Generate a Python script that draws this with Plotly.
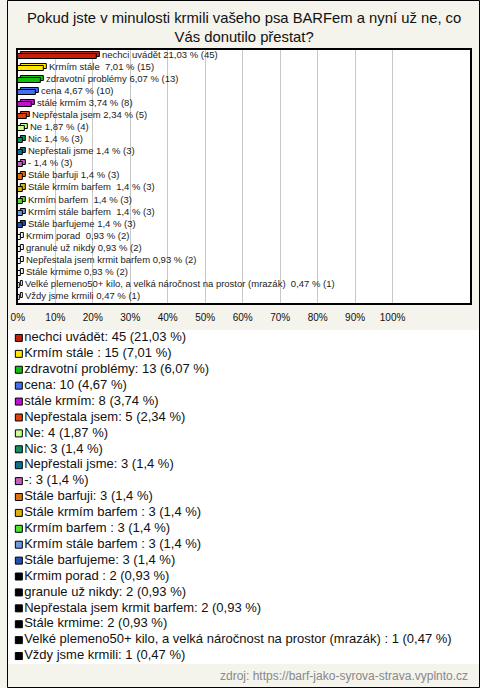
import plotly.graph_objects as go

W, H = 480, 688

categories = [
    "nechci uvádět", "Krmím stále ", "zdravotní problémy", "cena", "stále krmím",
    "Nepřestala jsem", "Ne", "Nic", "Nepřestali jsme", "-",
    "Stále barfuji", "Stále krmím barfem ", "Krmím barfem ", "Krmím stále barfem ",
    "Stále barfujeme", "Krmim porad ", "granule už nikdy", "Nepřestala jsem krmit barfem",
    "Stále krmime", "Velké plemeno50+ kilo, a velká náročnost na prostor (mrazák) ",
    "Vždy jsme krmili",
]
counts = [45, 15, 13, 10, 8, 5, 4, 3, 3, 3, 3, 3, 3, 3, 3, 2, 2, 2, 2, 1, 1]
percents = [21.03, 7.01, 6.07, 4.67, 3.74, 2.34, 1.87, 1.4, 1.4, 1.4, 1.4, 1.4, 1.4, 1.4,
            1.4, 0.93, 0.93, 0.93, 0.93, 0.47, 0.47]
legend_colors = [
    "#c4200c", "#ffe800", "#10c010", "#4070f0", "#c010d0", "#e04010", "#c8ff90",
    "#109060", "#107090", "#c060c0", "#e07010", "#e0b010", "#50e030", "#7098e0",
    "#2050b0", "#000000", "#000000", "#000000", "#000000", "#000000", "#000000",
]
bar_colors = [c if c != "#000000" else "#ffffff" for c in legend_colors]
tick_vals = [0, 10, 20, 30, 40, 50, 60, 70, 80, 90, 100]
tick_labels = ["0%", "10%", "20%", "30%", "40%", "50%", "60%", "70%", "80%", "90%", "100%"]

title_text = "Pokud jste v minulosti krmili vašeho psa BARFem a nyní už ne, co<br>Vás donutilo přestat?"
source_text = "zdroj: https://barf-jako-syrova-strava.vyplnto.cz"


def fmt(p):
    return f"{p:g}".replace(".", ",")


idx = list(range(len(categories)))
NB = "\u00a0"
bar_labels = ["%s%s %s %% (%d)" % (NB, c, fmt(p), n)
              for c, p, n in zip(categories, percents, counts)]
legend_labels = ["%s: %d (%s %%)" % (c, n, fmt(p)) for c, p, n in zip(categories, percents, counts)]

FONT = "Liberation Sans, Arial, sans-serif"
depth = 0.8
bw = 0.42

fig = go.Figure()
# back (3D depth) faces
fig.add_trace(go.Bar(
    orientation="h", y=idx, x=percents, base=depth, width=bw, offset=-0.34,
    marker=dict(color=bar_colors, line=dict(color="#000000", width=1)),
    text=bar_labels, textposition="outside", constraintext="none",
    textfont=dict(size=9.5, color="#222222", family=FONT),
    cliponaxis=False, showlegend=False, hoverinfo="skip",
))
# front faces
fig.add_trace(go.Bar(
    orientation="h", y=idx, x=percents, width=bw, offset=-0.17,
    marker=dict(color=bar_colors, line=dict(color="#000000", width=1)),
    cliponaxis=False, showlegend=False,
))
# legend list
fig.add_trace(go.Scatter(
    x=[0] * len(idx), y=idx, mode="markers+text", text=legend_labels,
    textposition="middle right",
    textfont=dict(size=13, color="#111111", family=FONT),
    marker=dict(symbol="square", size=7, color=legend_colors,
                line=dict(color="#000000", width=1)),
    xaxis="x2", yaxis="y2", cliponaxis=False, showlegend=False,
))

x0p, x1p = 11, 470
px_per_pct = (391.3 - 11) / 100.0
fig.update_layout(
    width=W, height=H,
    margin=dict(l=0, r=0, t=0, b=0),
    paper_bgcolor="#f4f3ec", plot_bgcolor="#ffffff",
    barmode="overlay", bargap=0,
    font=dict(family=FONT, color="#111111"),
    xaxis=dict(
        domain=[x0p / W, x1p / W], range=[0, (x1p - x0p) / px_per_pct],
        tickvals=tick_vals, ticktext=tick_labels, showgrid=True, gridcolor="#c8c8c8",
        gridwidth=1, zeroline=False, showline=True, mirror=True, linecolor="#000000",
        linewidth=1.5, ticks="", tickfont=dict(size=10, color="#111111"),
        ticklabelstandoff=4, fixedrange=True,
    ),
    yaxis=dict(
        domain=[1 - 303 / H, 1 - 50 / H], range=[20.5, -0.5], showticklabels=False,
        showgrid=False, zeroline=False, showline=True, mirror=True,
        linecolor="#000000", linewidth=1.5, ticks="", fixedrange=True,
    ),
    xaxis2=dict(domain=[0, 1], range=[-12, W - 12], visible=False, anchor="y2"),
    yaxis2=dict(domain=[1 - 664 / H, 1 - 330 / H], range=[20.5, -0.5], visible=False,
                anchor="x2"),
    annotations=[
        dict(text=title_text, xref="paper", yref="paper", x=0.5, y=1 - 28 / H,
             xanchor="center", yanchor="middle", showarrow=False,
             font=dict(size=14.8, color="#111111", family=FONT)),
        dict(text=source_text, xref="paper", yref="paper", x=470 / W, y=1 - 676 / H,
             xanchor="right", yanchor="middle", showarrow=False,
             font=dict(size=12, color="#888888", family=FONT)),
    ],
    shapes=[
        dict(type="rect", xref="paper", yref="paper", x0=0.5 / W, x1=1 - 0.5 / W,
             y0=0.5 / H, y1=1 - 0.5 / H, line=dict(color="#000000", width=1)),
    ],
)

fig.write_html(
    "out.html",
    config={"displayModeBar": False},
    post_script="document.body.style.margin='0';document.body.style.overflow='hidden';",
)
